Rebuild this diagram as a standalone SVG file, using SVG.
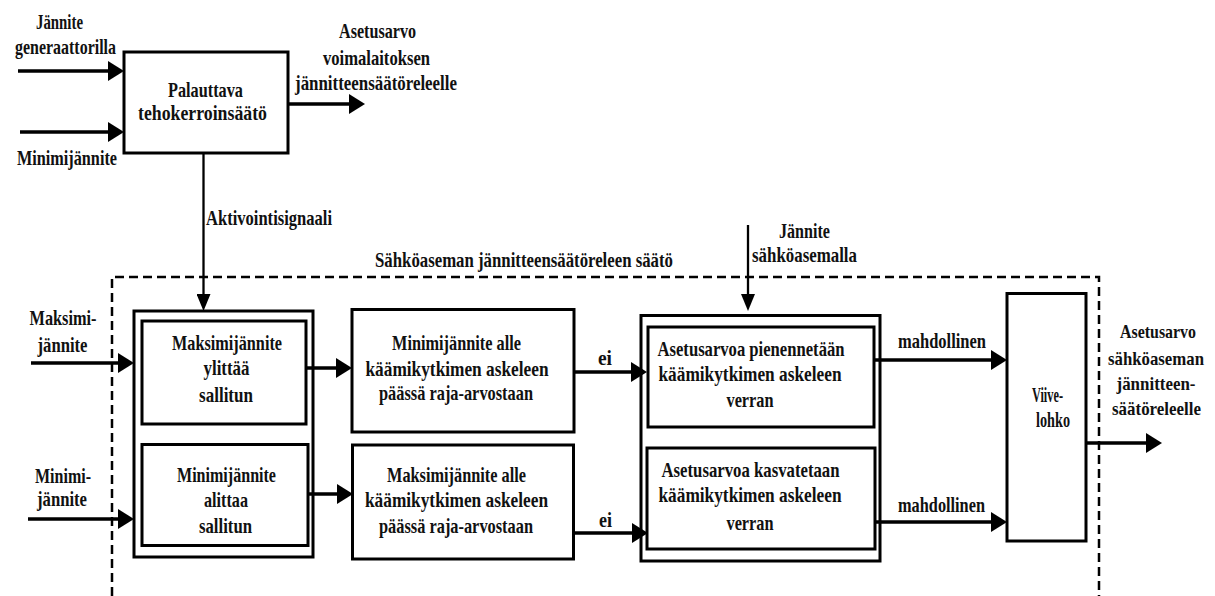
<svg xmlns="http://www.w3.org/2000/svg" width="1215" height="596" viewBox="0 0 1215 596">
<defs>
<style>
text{font-family:"Liberation Serif","DejaVu Serif",serif;font-weight:bold;font-size:22px;fill:#111;text-anchor:middle}
text.r{font-size:19px}
.box{fill:none;stroke:#000;stroke-width:3}
.ln{fill:none;stroke:#000;stroke-width:3.5}
.thin{fill:none;stroke:#000;stroke-width:2.3}
.dash{fill:none;stroke:#000;stroke-width:2.5;stroke-dasharray:9 5}
</style>
<marker id="ah" markerUnits="userSpaceOnUse" viewBox="0 0 16 20" refX="8" refY="10" markerWidth="16" markerHeight="20" orient="auto"><path d="M0,0 L16,10 L0,20 z" fill="#000"/></marker>
<marker id="ahs" markerUnits="userSpaceOnUse" viewBox="0 0 17 14" refX="8" refY="7" markerWidth="17" markerHeight="14" orient="auto"><path d="M0,0 L17,7 L0,14 z" fill="#000"/></marker>
</defs>
<rect width="1215" height="596" fill="#fff"/>

<g id="region">
<path class="dash" d="M112,596 V277 H1099 V596"/>
<text x="524" y="267" textLength="298" lengthAdjust="spacingAndGlyphs">Sähköaseman jännitteensäätöreleen säätö</text>
</g>

<g id="labels">
<text x="59.5" y="29" textLength="47" lengthAdjust="spacingAndGlyphs">Jännite</text>
<text x="65.5" y="54" textLength="101" lengthAdjust="spacingAndGlyphs">generaattorilla</text>
<text x="67" y="165" textLength="100" lengthAdjust="spacingAndGlyphs">Minimijännite</text>
<text x="377.5" y="38" textLength="77" lengthAdjust="spacingAndGlyphs">Asetusarvo</text>
<text x="376.5" y="65" textLength="107" lengthAdjust="spacingAndGlyphs">voimalaitoksen</text>
<text x="376" y="90" textLength="162" lengthAdjust="spacingAndGlyphs">jännitteensäätöreleelle</text>
<text x="269" y="225" textLength="126" lengthAdjust="spacingAndGlyphs">Aktivointisignaali</text>
<text x="804.5" y="238" textLength="51" lengthAdjust="spacingAndGlyphs">Jännite</text>
<text x="804.5" y="262" textLength="105" lengthAdjust="spacingAndGlyphs">sähköasemalla</text>
<text x="63" y="325" textLength="67" lengthAdjust="spacingAndGlyphs">Maksimi-</text>
<text x="62.5" y="351.5" textLength="50" lengthAdjust="spacingAndGlyphs">jännite</text>
<text x="63" y="483" textLength="56" lengthAdjust="spacingAndGlyphs">Minimi-</text>
<text x="62" y="506" textLength="50" lengthAdjust="spacingAndGlyphs">jännite</text>
<text x="605" y="365" textLength="14" lengthAdjust="spacingAndGlyphs">ei</text>
<text x="605.5" y="527" textLength="13" lengthAdjust="spacingAndGlyphs">ei</text>
<text x="942" y="348" textLength="88" lengthAdjust="spacingAndGlyphs">mahdollinen</text>
<text x="941.5" y="511.5" textLength="87" lengthAdjust="spacingAndGlyphs">mahdollinen</text>
<text class="r" x="1158" y="338" textLength="76" lengthAdjust="spacingAndGlyphs">Asetusarvo</text>
<text class="r" x="1156" y="365" textLength="96" lengthAdjust="spacingAndGlyphs">sähköaseman</text>
<text class="r" x="1156" y="390" textLength="79" lengthAdjust="spacingAndGlyphs">jännitteen-</text>
<text class="r" x="1156.5" y="415" textLength="89" lengthAdjust="spacingAndGlyphs">säätöreleelle</text>
</g>

<g id="n-palauttava">
<rect class="box" x="124" y="52" width="164" height="101"/>
<text x="205.5" y="97" textLength="75" lengthAdjust="spacingAndGlyphs">Palauttava</text>
<text x="202.5" y="120" textLength="129" lengthAdjust="spacingAndGlyphs">tehokerroinsäätö</text>
</g>

<g id="n-left-group">
<rect class="box" x="134" y="311" width="179" height="246"/>
</g>
<g id="n-max-ylittaa">
<rect class="box" x="142" y="321" width="164" height="103"/>
<text x="227" y="350" textLength="110" lengthAdjust="spacingAndGlyphs">Maksimijännite</text>
<text x="226.5" y="375" textLength="46" lengthAdjust="spacingAndGlyphs">ylittää</text>
<text x="226" y="401.5" textLength="54" lengthAdjust="spacingAndGlyphs">sallitun</text>
</g>
<g id="n-min-alittaa">
<rect class="box" x="142" y="444.5" width="166" height="101"/>
<text x="226.5" y="481.5" textLength="99" lengthAdjust="spacingAndGlyphs">Minimijännite</text>
<text x="226" y="507" textLength="44" lengthAdjust="spacingAndGlyphs">alittaa</text>
<text x="225.5" y="533" textLength="53" lengthAdjust="spacingAndGlyphs">sallitun</text>
</g>

<g id="n-min-alle">
<rect class="box" x="352" y="309.5" width="222" height="122.5"/>
<text x="456.5" y="350" textLength="129" lengthAdjust="spacingAndGlyphs">Minimijännite alle</text>
<text x="457" y="376" textLength="183" lengthAdjust="spacingAndGlyphs">käämikytkimen askeleen</text>
<text x="456" y="400" textLength="154" lengthAdjust="spacingAndGlyphs">päässä raja-arvostaan</text>
</g>
<g id="n-max-alle">
<rect class="box" x="352.5" y="445" width="221" height="114"/>
<text x="456.5" y="481.5" textLength="139" lengthAdjust="spacingAndGlyphs">Maksimijännite alle</text>
<text x="456.5" y="507" textLength="183" lengthAdjust="spacingAndGlyphs">käämikytkimen askeleen</text>
<text x="456" y="533" textLength="154" lengthAdjust="spacingAndGlyphs">päässä raja-arvostaan</text>
</g>

<g id="n-right-group">
<rect class="box" x="641" y="315.5" width="239" height="245.5"/>
</g>
<g id="n-pienennetaan">
<rect class="box" x="648" y="327" width="226" height="100"/>
<text x="751" y="356" textLength="187" lengthAdjust="spacingAndGlyphs">Asetusarvoa pienennetään</text>
<text x="750" y="381" textLength="183" lengthAdjust="spacingAndGlyphs">käämikytkimen askeleen</text>
<text x="750" y="407" textLength="47" lengthAdjust="spacingAndGlyphs">verran</text>
</g>
<g id="n-kasvatetaan">
<rect class="box" x="647" y="448" width="228" height="101"/>
<text x="750.5" y="476.5" textLength="178" lengthAdjust="spacingAndGlyphs">Asetusarvoa kasvatetaan</text>
<text x="750" y="501.5" textLength="183" lengthAdjust="spacingAndGlyphs">käämikytkimen askeleen</text>
<text x="750" y="530" textLength="47" lengthAdjust="spacingAndGlyphs">verran</text>
</g>

<g id="n-viive">
<rect class="box" x="1007" y="293.5" width="79" height="247.5"/>
<text x="1047.5" y="401.5" textLength="31" lengthAdjust="spacingAndGlyphs">Viive-</text>
<text x="1053" y="426.5" textLength="34" lengthAdjust="spacingAndGlyphs">lohko</text>
</g>

<g id="connectors">
<path class="ln" d="M18,71 H116" marker-end="url(#ah)"/>
<path class="ln" d="M20,132 H116" marker-end="url(#ah)"/>
<path class="ln" d="M289,104 H357" marker-end="url(#ah)"/>
<path class="thin" d="M203.5,153 V302" marker-end="url(#ahs)"/>
<path class="thin" d="M748,225 V302" marker-end="url(#ahs)"/>
<path class="ln" d="M31,363 H126" marker-end="url(#ah)"/>
<path class="ln" d="M28,519 H126" marker-end="url(#ah)"/>
<path class="ln" d="M306,368 H344" marker-end="url(#ah)"/>
<path class="ln" d="M308,494 H345" marker-end="url(#ah)"/>
<path class="ln" d="M574,372 H639" marker-end="url(#ah)"/>
<path class="ln" d="M573.5,533 H640" marker-end="url(#ah)"/>
<path class="ln" d="M874,360 H999" marker-end="url(#ah)"/>
<path class="ln" d="M875,522 H999" marker-end="url(#ah)"/>
<path class="ln" d="M1086,443 H1154" marker-end="url(#ah)"/>
</g>
</svg>
